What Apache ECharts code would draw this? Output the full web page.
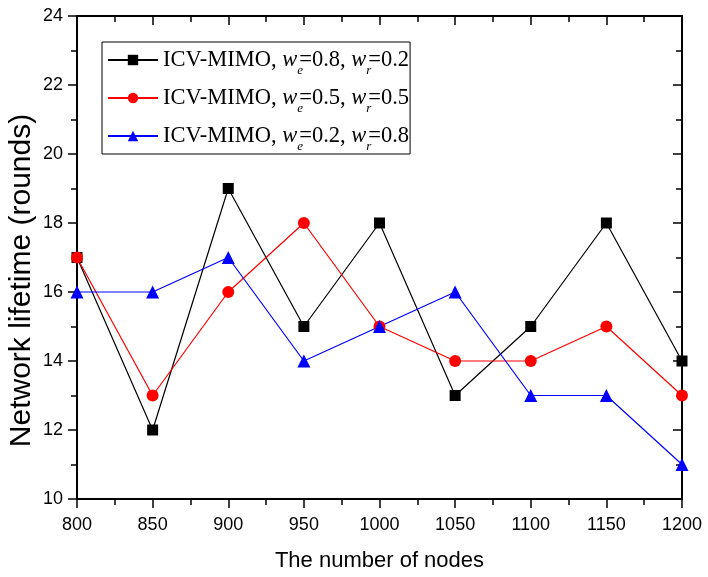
<!DOCTYPE html>
<html><head><meta charset="utf-8">
<script src="https://cdn.jsdelivr.net/npm/echarts@6/dist/echarts.min.js"></script>
<style>html,body{margin:0;padding:0;background:#fff}#c{width:708px;height:577px}</style>
</head><body><div id="c"></div>
<script>
var nodes = [800, 850, 900, 950, 1000, 1050, 1100, 1150, 1200];
var s08 = [17, 12, 19, 15, 18, 13, 15, 18, 14];
var s05 = [17, 13, 16, 18, 15, 14, 14, 15, 13];
var s02 = [16, 16, 17, 14, 15, 16, 13, 13, 11];
var names = ['a', 'b', 'c'];
var legendText = {
  a: 'ICV-MIMO, {i|w}{s|e}=0.8, {i|w}{s|r}=0.2',
  b: 'ICV-MIMO, {i|w}{s|e}=0.5, {i|w}{s|r}=0.5',
  c: 'ICV-MIMO, {i|w}{s|e}=0.2, {i|w}{s|r}=0.8'
};
function pairs(v){ return nodes.map(function(x,i){return [x, v[i]];}); }
var chart = echarts.init(document.getElementById('c'));
var sans = 'Liberation Sans, Arial';
function xa(pos, show){
  return {type:'value', position:pos, min:800, max:1200, interval:50,
    axisLine:{show:true, onZero:false, lineStyle:{color:'#000', width:2}},
    axisTick:{show:true, inside: !show, length:9, lineStyle:{color:'#000', width:1.5}},
    minorTick:{show:true, splitNumber:2, length:6, lineStyle:{color:'#000', width:1.5}},
    axisLabel:{show:show, margin:17, fontFamily:sans, fontSize:18, color:'#000',
      formatter:function(v){return String(v);}},
    splitLine:{show:false},
    name: show ? 'The number of nodes' : '', nameLocation:'middle', nameGap:51,
    nameMoveOverlap:false,
    nameTextStyle:{fontFamily:sans, fontSize:22, color:'#000'}};
}
function ya(pos, show){
  return {type:'value', position:pos, min:10, max:24, interval:2,
    axisLine:{show:true, onZero:false, lineStyle:{color:'#000', width:2}},
    axisTick:{show:true, inside: !show, length:9, lineStyle:{color:'#000', width:1.5}},
    minorTick:{show:true, splitNumber:2, length:6, lineStyle:{color:'#000', width:1.5}},
    axisLabel:{show:show, margin:14, fontFamily:sans, fontSize:18, color:'#000'},
    splitLine:{show:false},
    name: show ? 'Network lifetime (rounds)' : '', nameLocation:'middle', nameGap:40,
    nameMoveOverlap:false,
    nameTextStyle:{fontFamily:sans, fontSize:30, color:'#000', padding:[0, 46, 0, 0]}};
}
function ser(name, v, color, sym, size){
  return {name:name, type:'line', data:pairs(v), symbol:sym, symbolSize:size,
    showAllSymbol:true, lineStyle:{color:color, width:1.2}, itemStyle:{color:color},
    emphasis:{disabled:true}, animation:false, clip:false};
}
chart.setOption({
  animation:false,
  grid:{left:77, top:16, right:26, bottom:78, containLabel:false, outerBoundsMode:'none'},
  xAxis:[xa('bottom', true), xa('top', false)],
  yAxis:[ya('left', true), ya('right', false)],
  legend:{orient:'vertical', left:102, top:42,
    padding:[4.5, 1, 0.5, 5], itemGap:7, itemWidth:50, itemHeight:13,
    borderColor:'#000', borderWidth:1, data:names,
    formatter:function(n){ return legendText[n]; },
    textStyle:{fontFamily:'Liberation Serif, Times New Roman', fontSize:22.5, color:'#000',
      lineHeight:27,
      rich:{
        i:{fontFamily:'Liberation Serif', fontStyle:'italic', fontSize:22.5, color:'#000', lineHeight:27},
        s:{fontFamily:'Liberation Serif', fontStyle:'italic', fontSize:13, color:'#000',
           lineHeight:4, verticalAlign:'top', padding:[18,0,0,0], width:2}
      }}},
  series:[
    ser('a', s08, '#000000', 'rect', 11),
    ser('b', s05, '#ff0000', 'circle', 12),
    ser('c', s02, '#0000ff', 'triangle', 13)
  ]
});
</script></body></html>
